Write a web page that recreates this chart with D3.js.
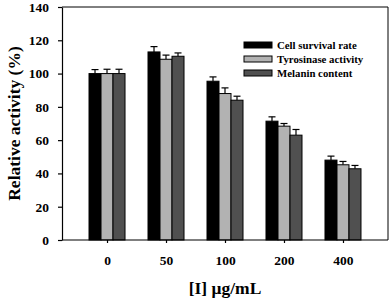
<!DOCTYPE html>
<html>
<head>
<meta charset="utf-8">
<script src="https://cdn.jsdelivr.net/npm/d3@7"></script>
<style>
  body { margin: 0; background: #fff; }
  svg { display: block; font-family: "Liberation Serif", "Times New Roman", serif; font-weight: bold; }
</style>
</head>
<body>
<div class="canvas"></div>
<script>
// data
const doses = ['0', '50', '100', '200', '400'];
const seriesNames = ['Cell survival rate', 'Tyrosinase activity', 'Melanin content'];
const survival = [100, 113, 95.4, 71.4, 48];
const tyrosinase = [100, 108.6, 88, 68.4, 45.2];
const melanin = [100, 110.4, 84, 63, 42.8];
const survivalErr = [2.4, 3.2, 2.6, 2.6, 2.4];
const tyrosinaseErr = [2.6, 2.5, 3.4, 1.6, 2];
const melaninErr = [2.6, 2, 2.4, 3.4, 2];
const yTicks = [0, 20, 40, 60, 80, 100, 120, 140];

const colors = ['#000000', '#b2b2b2', '#505050'];

const svg = d3.select('.canvas')
              .append('svg')
              .attr('width', 390)
              .attr('height', 301);

const plot = { left: 62, right: 388, top: 7, bottom: 240 };

const x = d3.scalePoint()
            .domain(doses)
            .range([plot.left, plot.right])
            .padding(0.763);

const y = d3.scaleLinear()
            .domain([0, 140])
            .range([plot.bottom, plot.top]);

const barW = 12;
const series = [
  { name: seriesNames[0], values: survival, errs: survivalErr },
  { name: seriesNames[1], values: tyrosinase, errs: tyrosinaseErr },
  { name: seriesNames[2], values: melanin, errs: melaninErr }
];

// bars + error bars (upper half only)
series.forEach((s, i) => {
  const offset = (i - 1.5) * barW;
  const g = svg.append('g');

  g.selectAll('line.err')
   .data(doses)
   .enter()
   .append('line')
   .attr('x1', d => x(d) + offset + barW / 2)
   .attr('x2', d => x(d) + offset + barW / 2)
   .attr('y1', (d, j) => y(s.values[j]))
   .attr('y2', (d, j) => y(s.values[j] + s.errs[j]))
   .attr('stroke', '#000')
   .attr('stroke-width', 1.2);

  g.selectAll('line.cap')
   .data(doses)
   .enter()
   .append('line')
   .attr('x1', d => x(d) + offset + barW / 2 - 3.5)
   .attr('x2', d => x(d) + offset + barW / 2 + 3.5)
   .attr('y1', (d, j) => y(s.values[j] + s.errs[j]))
   .attr('y2', (d, j) => y(s.values[j] + s.errs[j]))
   .attr('stroke', '#000')
   .attr('stroke-width', 1.2);

  g.selectAll('rect')
   .data(doses)
   .enter()
   .append('rect')
   .attr('x', d => x(d) + offset)
   .attr('y', (d, j) => y(s.values[j]))
   .attr('width', barW)
   .attr('height', (d, j) => y(0) - y(s.values[j]))
   .attr('fill', colors[i])
   .attr('stroke', '#000')
   .attr('stroke-width', 1);
});

// frame (top and right)
svg.append('path')
   .attr('d', `M${plot.left},${plot.top}H${plot.right}V${plot.bottom}`)
   .attr('fill', 'none')
   .attr('stroke', '#000')
   .attr('stroke-width', 1);

// axes
const yAxis = svg.append('g')
                 .attr('transform', `translate(${plot.left},0)`)
                 .call(d3.axisLeft(y).tickValues(yTicks).tickSize(4).tickSizeOuter(0).tickPadding(9));

const xAxis = svg.append('g')
                 .attr('transform', `translate(0,${plot.bottom})`)
                 .call(d3.axisBottom(x).tickSize(3).tickSizeOuter(0).tickPadding(12));

[yAxis, xAxis].forEach(ax => {
  ax.select('.domain').attr('stroke-width', 1.2);
  ax.selectAll('.tick line').attr('stroke-width', 1.2);
  ax.selectAll('text')
    .attr('font-family', '"Liberation Serif", serif')
    .attr('font-weight', 'bold')
    .attr('font-size', 13.5)
    .attr('fill', '#000');
});
// the x axis domain has to span the whole plot
xAxis.select('.domain').attr('d', `M${plot.left},0H${plot.right}`);

// axis titles
svg.append('text')
   .attr('transform', `translate(14,${(plot.top + plot.bottom) / 2}) rotate(-90)`)
   .attr('text-anchor', 'middle')
   .attr('dominant-baseline', 'central')
   .attr('font-size', 17.5)
   .text('Relative activity (%)');

svg.append('text')
   .attr('x', (plot.left + plot.right) / 2)
   .attr('y', 294)
   .attr('text-anchor', 'middle')
   .attr('font-size', 17.5)
   .text('[I] μg/mL');

// legend
const legend = svg.append('g')
                  .attr('transform', 'translate(244,45)');

legend.selectAll('rect')
      .data(seriesNames)
      .enter()
      .append('rect')
      .attr('x', 0)
      .attr('y', (d, i) => i * 14 - 3)
      .attr('width', 28)
      .attr('height', 6)
      .attr('fill', (d, i) => colors[i])
      .attr('stroke', '#000')
      .attr('stroke-width', 1);

legend.selectAll('text')
      .data(seriesNames)
      .enter()
      .append('text')
      .attr('x', 33)
      .attr('y', (d, i) => i * 14)
      .attr('dominant-baseline', 'central')
      .attr('font-size', 10.8)
      .text(d => d);
</script>
</body>
</html>
